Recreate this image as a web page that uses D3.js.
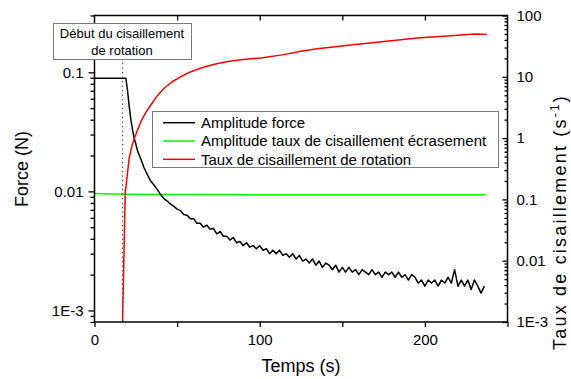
<!DOCTYPE html>
<html>
<head>
<meta charset="utf-8">
<script src="https://cdn.jsdelivr.net/npm/d3@7"></script>
<style>
  body { margin: 0; background: #fff; }
  svg { display: block; }
  text { font-family: Arial, "Liberation Sans", sans-serif; fill: #000; }
</style>
</head>
<body>
<svg width="571" height="379"></svg>
<script>
const width = 571, height = 379;
const svg = d3.select("svg");

// Tick values and labels
const timeTicks = [0, 50, 100, 150, 200, 250];
const timeLabels = [0, 100, 200];
const forceTicks = [0.1, 0.01, 0.001];
const forceLabels = ["0.1", "0.01", "1E-3"];
const rateTicks = [100, 10, 1, 0.1, 0.01, 0.001];
const rateLabels = ["100", "10", "1", "0.1", "0.01", "1E-3"];

// Series: [time (s), value]
const forceAmplitude = [
  [0, 0.0893], [5, 0.0893], [10, 0.0892], [15, 0.0893], [19, 0.0890], [20, 0.070], [21, 0.052],
  [22, 0.040], [23, 0.033], [24, 0.028], [25, 0.025], [26, 0.022], [27, 0.0203], [28, 0.0188],
  [30, 0.0158], [32, 0.0138], [34, 0.0122], [36, 0.0113], [38, 0.0104], [40, 0.0094], [42, 0.0087],
  [44, 0.0083], [46, 0.0078], [48, 0.0075], [50, 0.0071], [52, 0.0069], [54, 0.0064], [56, 0.0063],
  [58, 0.0059], [60, 0.0059], [62, 0.0054], [64, 0.0054], [66, 0.0050], [68, 0.0052], [70, 0.0048],
  [72, 0.0049], [74, 0.0044], [76, 0.0046], [78, 0.0042], [80, 0.0042], [82, 0.0039], [84, 0.0041],
  [86, 0.0037], [88, 0.0038], [90, 0.0035], [92, 0.0037], [94, 0.0034], [96, 0.0035], [98, 0.0033],
  [100, 0.0035], [102, 0.0032], [104, 0.0033], [106, 0.0030], [108, 0.0032], [110, 0.0030],
  [112, 0.0032], [114, 0.0029], [116, 0.0030], [118, 0.0028], [120, 0.0030], [122, 0.0027],
  [124, 0.0029], [126, 0.0026], [128, 0.0027], [130, 0.0025], [132, 0.0027], [134, 0.0024],
  [136, 0.0026], [138, 0.0023], [140, 0.0025], [142, 0.0024], [144, 0.0022], [146, 0.0024],
  [148, 0.0021], [150, 0.0023], [152, 0.0021], [154, 0.0023], [156, 0.0021], [158, 0.0022],
  [160, 0.0020], [162, 0.0022], [164, 0.0021], [166, 0.0020], [168, 0.0022], [170, 0.0020],
  [172, 0.0021], [174, 0.0019], [176, 0.0021], [178, 0.0020], [180, 0.0021], [182, 0.0019],
  [184, 0.0021], [186, 0.0019], [188, 0.0020], [190, 0.0018], [192, 0.0020], [194, 0.0019],
  [196, 0.0017], [198, 0.0018], [200, 0.0016], [202, 0.0018], [204, 0.0017], [206, 0.0018],
  [208, 0.0016], [210, 0.0018], [212, 0.0017], [214, 0.0019], [216, 0.0017], [218, 0.0022],
  [220, 0.0016], [222, 0.0018], [224, 0.0016], [226, 0.0018], [228, 0.0015], [230, 0.0018],
  [232, 0.0016], [234, 0.0014], [236, 0.0016]
];
const squashShearRate = [
  [0, 0.125], [10, 0.123], [20, 0.121], [40, 0.120], [60, 0.120], [100, 0.119],
  [150, 0.119], [200, 0.119], [237, 0.119]
];
const rotationShearRate = [
  [16.8, 0.0004], [17.2, 0.002], [17.6, 0.0063], [18.2, 0.04], [18.6, 0.127], [19.4, 0.196],
  [21, 0.47], [22.5, 0.72], [24.1, 1.0], [28.1, 1.86], [31, 2.6], [34.2, 3.5], [38, 4.9],
  [42.2, 6.5], [47, 8.3], [52.4, 10.1], [58, 12.0], [64.5, 13.9], [72, 15.9], [80.6, 17.8],
  [90, 19.2], [100.8, 20.3], [114.5, 23.0], [125, 26.0], [134.8, 28.6], [151, 32.1],
  [175.2, 37.7], [195.4, 42.8], [215.6, 46.6], [228, 49.5], [232, 50], [237.5, 49.2]
];
const rotationStart = 17;

const seriesNames = ["Amplitude force", "Amplitude taux de cisaillement écrasement", "Taux de cisaillement de rotation"];
const seriesColors = ["#000000", "#00ff00", "#ff0000"];

// Scales
const x = d3.scaleLinear().domain([0, 250]).range([94.5, 507.5]);
const yLeft = d3.scaleLog().domain([8e-4, 0.3]).range([322, 15.5]);
const yRight = d3.scaleLog().domain([1e-3, 100]).range([322, 15.5]);

const minorOf = (scale, majors) => scale.ticks().filter(v => !majors.some(m => Math.abs(m - v) / m < 1e-6));

// Clip for the data lines
svg.append("defs").append("clipPath").attr("id", "plotClip")
  .append("rect").attr("x", 94.5).attr("y", 15.5).attr("width", 413).attr("height", 306.5);

// Data lines
const plot = svg.append("g").attr("clip-path", "url(#plotClip)");
plot.append("path").datum(squashShearRate)
  .attr("fill", "none").attr("stroke", seriesColors[1]).attr("stroke-width", 1.5)
  .attr("d", d3.line().x(d => x(d[0])).y(d => yRight(d[1])));
plot.append("path").datum(forceAmplitude)
  .attr("fill", "none").attr("stroke", seriesColors[0]).attr("stroke-width", 1.5)
  .attr("stroke-linejoin", "round")
  .attr("d", d3.line().x(d => x(d[0])).y(d => yLeft(d[1])));
plot.append("path").datum(rotationShearRate)
  .attr("fill", "none").attr("stroke", seriesColors[2]).attr("stroke-width", 1.5)
  .attr("stroke-linejoin", "round")
  .attr("d", d3.line().x(d => x(d[0])).y(d => yRight(d[1])));

// Dotted marker of rotation start
svg.append("line")
  .attr("x1", x(rotationStart)).attr("x2", x(rotationStart))
  .attr("y1", 63).attr("y2", 322)
  .attr("stroke", "#444").attr("stroke-width", 1.2).attr("stroke-dasharray", "1.2,3.3");

// Axes
function styleAxis(g) {
  g.selectAll("text").style("font-size", "15px").style("font-family", "Arial, 'Liberation Sans', sans-serif");
  g.selectAll("line").attr("stroke-width", 1.3);
}

// Bottom
svg.append("g").attr("transform", "translate(0,322)")
  .call(d3.axisBottom(x).tickValues(timeTicks).tickSize(5).tickPadding(7)
    .tickFormat(d => timeLabels.includes(d) ? d : ""))
  .call(styleAxis).call(g => g.select(".domain").remove());
// Top
svg.append("g").attr("transform", "translate(0,15.5)")
  .call(d3.axisTop(x).tickValues(timeTicks.slice(1, -1)).tickSize(-5).tickFormat(""))
  .call(styleAxis).call(g => g.select(".domain").remove());

// Left (force)
svg.append("g").attr("transform", "translate(94.5,0)")
  .call(d3.axisLeft(yLeft).tickValues(minorOf(yLeft, forceTicks)).tickSize(4).tickFormat(""))
  .call(styleAxis).call(g => g.select(".domain").remove());
svg.append("g").attr("transform", "translate(94.5,0)")
  .call(d3.axisLeft(yLeft).tickValues(forceTicks).tickSize(6).tickPadding(5)
    .tickFormat((d, i) => forceLabels[i]))
  .call(styleAxis).call(g => g.select(".domain").remove());

// Right (shear rate), ticks inward
svg.append("g").attr("transform", "translate(507.5,0)")
  .call(d3.axisRight(yRight).tickValues(minorOf(yRight, rateTicks)).tickSize(-3).tickFormat(""))
  .call(styleAxis).call(g => g.select(".domain").remove());
svg.append("g").attr("transform", "translate(507.5,0)")
  .call(d3.axisRight(yRight).tickValues(rateTicks).tickSize(-5).tickPadding(9)
    .tickFormat((d, i) => rateLabels[i]))
  .call(styleAxis).call(g => g.select(".domain").remove());

// Frame
svg.append("rect")
  .attr("x", 94.5).attr("y", 15.5).attr("width", 413).attr("height", 306.5)
  .attr("fill", "none").attr("stroke", "#000").attr("stroke-width", 1.5);

// Axis titles
svg.append("text").attr("x", 301).attr("y", 372).attr("text-anchor", "middle")
  .style("font-size", "18px").text("Temps (s)");
svg.append("text").attr("transform", "translate(28,169) rotate(-90)").attr("text-anchor", "middle")
  .style("font-size", "18px").text("Force (N)");
const rightTitle = svg.append("text").attr("transform", "translate(566,222) rotate(-90)")
  .attr("text-anchor", "middle").style("font-size", "18px").style("letter-spacing", "2.2px");
rightTitle.append("tspan").text("Taux de cisaillement (s");
rightTitle.append("tspan").attr("dy", -7).style("font-size", "12px").text("-1");
rightTitle.append("tspan").attr("dy", 7).text(")");

// Annotation box
svg.append("rect").attr("x", 53.5).attr("y", 23.5).attr("width", 138).attr("height", 36)
  .attr("fill", "#fff").attr("stroke", "#7a7a7a").attr("stroke-width", 1);
svg.append("text").attr("x", 122).attr("y", 37.5).attr("text-anchor", "middle")
  .style("font-size", "13px").text("Début du cisaillement");
svg.append("text").attr("x", 122).attr("y", 54.5).attr("text-anchor", "middle")
  .style("font-size", "13px").text("de rotation");

// Legend
const legend = svg.append("g");
legend.append("rect").attr("x", 152.5).attr("y", 111.5).attr("width", 346).attr("height", 56)
  .attr("fill", "#fff").attr("stroke", "#7a7a7a").attr("stroke-width", 1);
seriesNames.forEach((name, i) => {
  const cy = 122.7 + i * 18.3;
  legend.append("line").attr("x1", 163).attr("x2", 195).attr("y1", cy).attr("y2", cy)
    .attr("stroke", seriesColors[i]).attr("stroke-width", 1.5);
  legend.append("text").attr("x", 201).attr("y", cy + 5.3)
    .style("font-size", "15px").text(name);
});
</script>
</body>
</html>
